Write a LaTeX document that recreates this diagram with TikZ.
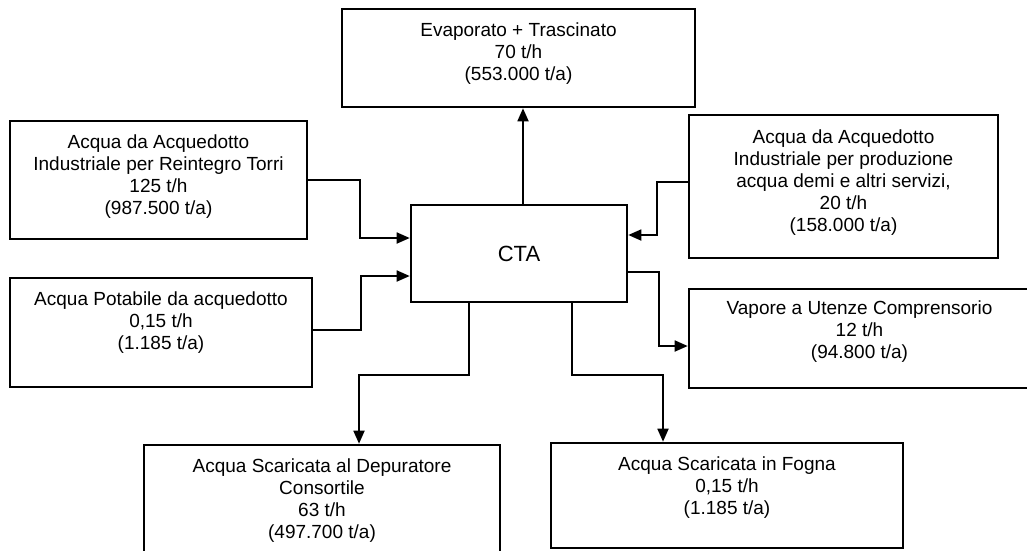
\documentclass[tikz,border=0pt]{standalone}
\usepackage{fontspec}
\setmainfont{Liberation Sans}
\usetikzlibrary{arrows.meta,positioning}
\begin{document}
\begin{tikzpicture}[x=1pt,y=-1pt,
  box/.style={draw, line width=2.6pt, inner sep=0pt},
  txt/.style={align=center, inner sep=0pt, font=\fontsize{19}{22}\selectfont},
  arr/.style={line width=1.8pt, -{Triangle[length=13pt,width=11pt]}}]
\fill[white] (0,0) rectangle (1027,550);
\useasboundingbox (0,0) rectangle (1027,550);
% boxes
\node[box, minimum width=353pt, minimum height=98pt] (evap) at (518.5,58) {};
\node[box, minimum width=297pt, minimum height=118pt] (rein) at (158.5,180) {};
\node[box, minimum width=302pt, minimum height=109pt] (pot) at (161,332.5) {};
\node[box, minimum width=309pt, minimum height=143pt] (ind) at (843.5,186.5) {};
\node[box, minimum width=216pt, minimum height=97pt, font=\fontsize{22}{26}\selectfont] (cta) at (519,253.5) {CTA};
\node[box, minimum width=341pt, minimum height=99pt] (vap) at (859.5,338.5) {};
\node[box, minimum width=356pt, minimum height=111pt] (dep) at (322,500.5) {};
\node[box, minimum width=352pt, minimum height=105pt] (fog) at (727,495.5) {};
% texts
\node[txt, below=13.6pt of evap.north] (evapt) {\strut Evaporato + Trascinato\\70 t/h\\(553.000 t/a)};
\node[txt, below=13.6pt of rein.north] (reint) {\strut Acqua da Acquedotto\\Industriale per Reintegro Torri\\125 t/h\\(987.500 t/a)};
\node[txt, below=13.6pt of pot.north] (pott) {\strut Acqua Potabile da acquedotto\\0,15 t/h\\(1.185 t/a)};
\node[txt, below=14.6pt of ind.north] (indt) {\strut Acqua da Acquedotto\\Industriale per produzione\\acqua demi e altri servizi,\\20 t/h\\(158.000 t/a)};
\node[txt, below=11.6pt of vap.north] (vapt) {\strut Vapore a Utenze Comprensorio\\12 t/h\\(94.800 t/a)};
\node[txt, below=13.6pt of dep.north] (dept) {\strut Acqua Scaricata al Depuratore\\Consortile\\63 t/h\\(497.700 t/a)};
\node[txt, below=13.6pt of fog.north] (fogt) {\strut Acqua Scaricata in Fogna\\0,15 t/h\\(1.185 t/a)};
% connectors
\draw[arr] (rein.east) -| (360,238) -- (cta.west |- 0,238);
\draw[arr] (pot.east |- 0,330) -| (361,276) -- (cta.west |- 0,276);
\draw[arr] (ind.west |- 0,182) -| (657,235) -- (cta.east |- 0,235);
\draw[arr] (cta.north -| 523,0) -- (evap.south -| 523,0);
\draw[arr] (cta.east |- 0,272) -| (659,346) -- (vap.west |- 0,346);
\draw[arr] (cta.south -| 469,0) |- (359,375) -- (dep.north -| 359,0);
\draw[arr] (cta.south -| 572,0) |- (663,375) -- (fog.north -| 663,0);
\end{tikzpicture}
\end{document}
